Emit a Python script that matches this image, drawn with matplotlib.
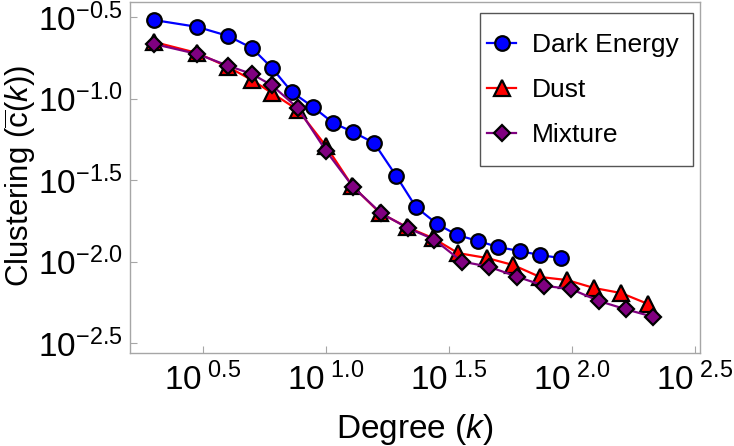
import matplotlib
matplotlib.use("Agg")
import matplotlib.pyplot as plt
from matplotlib.ticker import FixedLocator, FixedFormatter, NullLocator
from matplotlib.patches import Rectangle

plt.rcParams['font.family'] = ['Liberation Sans', 'DejaVu Sans']
plt.rcParams['mathtext.fontset'] = 'custom'
plt.rcParams['mathtext.rm'] = 'Liberation Sans'
plt.rcParams['mathtext.it'] = 'Liberation Sans:italic'
plt.rcParams['mathtext.bf'] = 'Liberation Sans:bold'

# Data
de_k = [2, 3, 4, 5, 6.03, 7.27, 8.86, 10.7, 12.9, 15.7, 19.3, 23.2, 28.3, 34.1, 41.5, 50.0, 61.5, 74.1, 90.2]
de_c = [0.303, 0.275, 0.242, 0.204, 0.154, 0.1096, 0.0887, 0.0708, 0.0623, 0.0533,
        0.0335, 0.0216, 0.0170, 0.01455, 0.01337, 0.01228, 0.01159, 0.01096, 0.01050]

dust_k = [2, 3, 4, 5, 6.03, 7.7, 10.0, 12.8, 16.6, 21.3, 27.2, 34.4, 45.1, 57.6, 74.1, 95.4, 122.9, 158.2, 203.7]
dust_c = [0.2222, 0.1901, 0.1561, 0.1299, 0.1081, 0.0850, 0.0511, 0.02905, 0.01984, 0.01628,
          0.01393, 0.01127, 0.01051, 0.00952, 0.00804, 0.00770, 0.00688, 0.00641, 0.00549]

mix_k = [2, 3, 4, 5, 6.03, 7.7, 10.0, 12.9, 16.7, 21.5, 27.5, 35.7, 46.0, 59.8, 77.0, 99.1, 128.8, 165.8, 213.5]
mix_c = [0.2160, 0.1875, 0.1589, 0.1413, 0.1205, 0.0871, 0.0478, 0.02864, 0.01984, 0.01605,
         0.01365, 0.0100, 0.00929, 0.00807, 0.00710, 0.00678, 0.00572, 0.00509, 0.00458]

x_tick_exp = [0.5, 1.0, 1.5, 2.0, 2.5]
y_tick_exp = [-0.5, -1.0, -1.5, -2.0, -2.5]
x_tick_labels = [r'$10^{\ 0.5}$', r'$10^{\ 1.0}$', r'$10^{\ 1.5}$', r'$10^{\ 2.0}$', r'$10^{\ 2.5}$']
y_tick_labels = [r'$10^{-0.5}$', r'$10^{-1.0}$', r'$10^{-1.5}$', r'$10^{-2.0}$', r'$10^{-2.5}$']

W, H = 734, 446
fig = plt.figure(figsize=(W / 100, H / 100), dpi=100)
ax = fig.add_axes([130 / W, 1 - 353 / H, 570 / W, 351 / H])

frame_col = '#a6a6a6'
lw = 1.6
ms = 10.5
mew = 1.6

ax.plot(de_k, de_c, '-', color='#0000ff', lw=lw, marker='o', ms=ms, mfc='#0000ff',
        mec='black', mew=mew, label='Dark Energy', zorder=3)
ax.plot(dust_k, dust_c, '-', color='#ff0000', lw=lw, marker='^', ms=ms + 1, mfc='#ff0000',
        mec='black', mew=mew, label='Dust', zorder=4)
ax.plot(mix_k, mix_c, '-', color='#800080', lw=lw, marker='D', ms=ms - 2, mfc='#800080',
        mec='black', mew=mew, label='Mixture', zorder=5)

ax.set_xscale('log')
ax.set_yscale('log')
ax.set_xlim(10 ** 0.2036, 10 ** 2.520)
ax.set_ylim(10 ** -2.561, 10 ** -0.408)

ax.xaxis.set_major_locator(FixedLocator([10 ** e for e in x_tick_exp]))
ax.xaxis.set_major_formatter(FixedFormatter(x_tick_labels))
ax.yaxis.set_major_locator(FixedLocator([10 ** e for e in y_tick_exp]))
ax.yaxis.set_major_formatter(FixedFormatter(y_tick_labels))
ax.xaxis.set_minor_locator(NullLocator())
ax.yaxis.set_minor_locator(NullLocator())

ax.tick_params(axis='both', which='major', direction='in', length=5, width=0.8,
               color=frame_col, labelsize=24, pad=5)
ax.tick_params(axis='x', pad=7)
for s in ax.spines.values():
    s.set_color(frame_col)
    s.set_linewidth(1.0)

ax.set_xlabel(r'Degree ($k$)', fontsize=24)
ax.xaxis.set_label_coords(0.5, -0.168)
fig.text(2 / W, 1 - 176 / H, r'Clustering ($\overline{\mathrm{c}}(k)$)', fontsize=22.5,
         rotation=90, ha='left', va='center')

# Legend (entries) and its frame
leg = fig.legend(loc='upper left', fontsize=19, frameon=False,
                 handlelength=1.1, handletextpad=0.6,
                 borderpad=0.5, labelspacing=0.8, borderaxespad=0,
                 bbox_to_anchor=(474 / W, 1 - 20 / H))
leg.set_zorder(10)
fig.patches.append(Rectangle((480 / W, 1 - 166 / H), 213 / W, 153 / H,
                             transform=fig.transFigure, facecolor='white',
                             edgecolor='#555555', linewidth=1.0, zorder=9))

fig.savefig('out.png', dpi=100)
